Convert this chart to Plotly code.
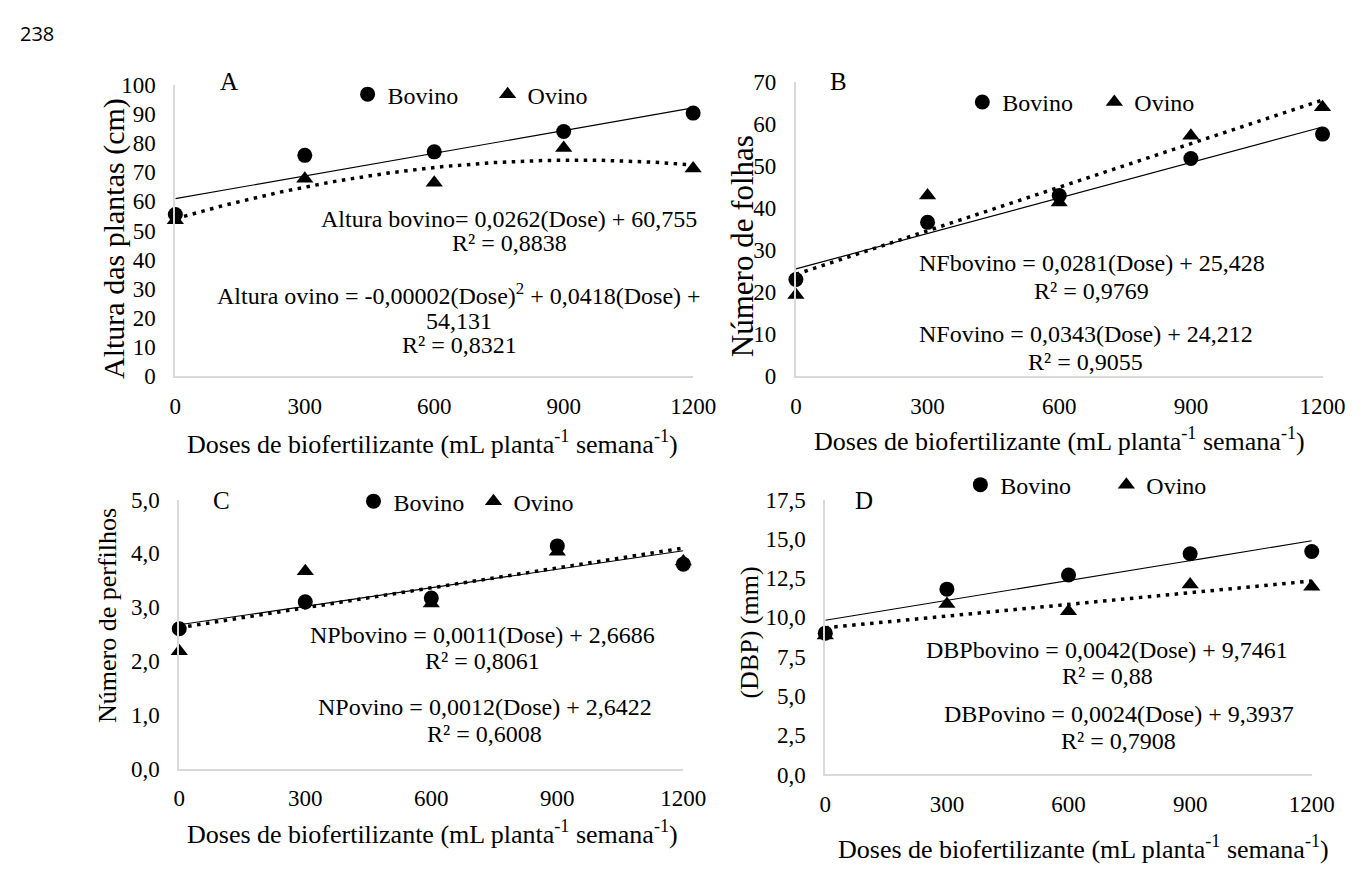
import numpy as np
import plotly.graph_objects as go

W, H = 1370, 872

doses = [0, 300, 600, 900, 1200]
x_ticks = [0, 300, 600, 900, 1200]

# Panel A - Altura das plantas (cm)
A_bovino = [55.5, 75.8, 77.0, 84.0, 90.3]
A_ovino = [53.5, 67.8, 66.4, 78.3, 71.3]
# Panel B - Número de folhas
B_bovino = [23.0, 36.6, 43.0, 51.8, 57.6]
B_ovino = [19.3, 43.0, 41.3, 57.2, 64.0]
# Panel C - Número de perfilhos
C_bovino = [2.6, 3.1, 3.17, 4.14, 3.8]
C_ovino = [2.18, 3.67, 3.07, 4.03, 3.85]
# Panel D - (DBP) (mm)
D_bovino = [9.0, 11.8, 12.7, 14.05, 14.2]
D_ovino = [8.85, 10.85, 10.4, 12.1, 11.95]

A_yticks = [0, 10, 20, 30, 40, 50, 60, 70, 80, 90, 100]
B_yticks = [0, 10, 20, 30, 40, 50, 60, 70]
C_yticks = [0, 1, 2, 3, 4, 5]
C_ylabels = ["0,0", "1,0", "2,0", "3,0", "4,0", "5,0"]
D_yticks = [0, 2.5, 5, 7.5, 10, 12.5, 15, 17.5]
D_ylabels = ["0,0", "2,5", "5,0", "7,5", "10,0", "12,5", "15,0", "17,5"]

eq_A = ["Altura bovino= 0,0262(Dose) + 60,755", "R² = 0,8838",
        "Altura ovino = -0,00002(Dose)<sup>2</sup> + 0,0418(Dose) +", "54,131", "R² = 0,8321"]
eq_B = ["NFbovino = 0,0281(Dose) + 25,428", "R² = 0,9769",
        "NFovino = 0,0343(Dose) + 24,212", "R² = 0,9055"]
eq_C = ["NPbovino = 0,0011(Dose) + 2,6686", "R² = 0,8061",
        "NPovino = 0,0012(Dose) + 2,6422", "R² = 0,6008"]
eq_D = ["DBPbovino = 0,0042(Dose) + 9,7461", "R² = 0,88",
        "DBPovino = 0,0024(Dose) + 9,3937", "R² = 0,7908"]

xtitle = "Doses de biofertilizante (mL planta<sup>-1</sup> semana<sup>-1</sup>)"
SERIF = "Liberation Serif, Times New Roman, serif"


def px_x(p):
    return p / W


def px_y(p):
    return 1 - p / H


# panel geometry in pixels: (left, right, top, bottom)
panels = [
    dict(key="A", box=(173, 702, 75, 375), yr=[0, 100], yt=A_yticks, yl=[str(v) for v in A_yticks],
         bov=A_bovino, ovi=A_ovino, ovi_deg=2, ytitle="Altura das plantas (cm)", ytsize=30,
         ytpos=(111, 233), xtpos=(436, 443), letter=(228, 72),
         leg=(373, 85), legw=140, eqs=eq_A,
         eqpos=[(514, 213), (514, 238), (463, 290), (463, 318), (463, 343)]),
    dict(key="B", box=(807, 1345, 72, 375), yr=[0, 70], yt=B_yticks, yl=[str(v) for v in B_yticks],
         bov=B_bovino, ovi=B_ovino, ovi_deg=1, ytitle="Número de folhas", ytsize=31,
         ytpos=(752, 241), xtpos=(1076, 440), letter=(850, 72),
         leg=(1001, 93), legw=132, eqs=eq_B,
         eqpos=[(1109, 258), (1109, 287), (1103, 332), (1103, 360)]),
    dict(key="C", box=(177, 692, 502, 779), yr=[0, 5], yt=C_yticks, yl=C_ylabels,
         bov=C_bovino, ovi=C_ovino, ovi_deg=1, ytitle="Número de perfilhos", ytsize=26,
         ytpos=(103, 621), xtpos=(436, 845), letter=(220, 503),
         leg=(379, 504), legw=120, eqs=eq_C,
         eqpos=[(487, 641), (487, 668), (489, 715), (489, 743)]),
    dict(key="D", box=(837, 1334, 502, 785), yr=[0, 17.5], yt=D_yticks, yl=D_ylabels,
         bov=D_bovino, ovi=D_ovino, ovi_deg=1, ytitle="(DBP) (mm)", ytsize=26,
         ytpos=(760, 639), xtpos=(1101, 860), letter=(877, 503),
         leg=(999, 487), legw=146, eqs=eq_D,
         eqpos=[(1125, 657), (1125, 684), (1137, 723), (1137, 751)]),
]

fig = go.Figure()
annotations = []
layout = {}
xfit = np.linspace(0, 1200, 121)

for i, p in enumerate(panels):
    n = "" if i == 0 else str(i + 1)
    xa, ya = "x" + n, "y" + n
    legname = "legend" + n
    l, r, t, b = p["box"]
    layout["xaxis" + n] = dict(
        domain=[px_x(l), px_x(r)], range=[0, 1200], anchor=ya,
        tickvals=x_ticks, ticktext=[str(v) for v in x_ticks],
        showline=True, linecolor="#d9d9d9", linewidth=2, showgrid=False, zeroline=False,
        ticks="outside", ticklen=8, tickcolor="rgba(0,0,0,0)",
        tickfont=dict(family=SERIF, size=23, color="black"), fixedrange=True)
    layout["yaxis" + n] = dict(
        domain=[px_y(b), px_y(t)], range=p["yr"], anchor=xa,
        tickvals=p["yt"], ticktext=p["yl"],
        showline=True, linecolor="#d9d9d9", linewidth=2, showgrid=False, zeroline=False,
        ticks="outside", ticklen=13, tickcolor="rgba(0,0,0,0)",
        tickfont=dict(family=SERIF, size=23, color="black"), fixedrange=True)

    # trendlines fitted from the data (Excel-style)
    cb = np.polyfit(doses, p["bov"], 1)
    co = np.polyfit(doses, p["ovi"], p["ovi_deg"])
    fig.add_trace(go.Scatter(x=xfit, y=np.polyval(cb, xfit), mode="lines", xaxis=xa, yaxis=ya,
                             line=dict(color="black", width=1.2), showlegend=False, hoverinfo="skip"))
    fig.add_trace(go.Scatter(x=xfit, y=np.polyval(co, xfit), mode="lines", xaxis=xa, yaxis=ya,
                             line=dict(color="black", width=3.5, dash="3.5px,5.5px"), showlegend=False,
                             hoverinfo="skip"))
    fig.add_trace(go.Scatter(x=doses, y=p["bov"], mode="markers", name="Bovino", xaxis=xa, yaxis=ya,
                             marker=dict(symbol="circle", size=15, color="black"),
                             cliponaxis=False, legend=legname))
    fig.add_trace(go.Scatter(x=doses, y=p["ovi"], mode="markers", name="Ovino", xaxis=xa, yaxis=ya,
                             marker=dict(symbol="triangle-up", size=15, color="black"),
                             cliponaxis=False, legend=legname))

    lx, ly = p["leg"]
    layout[legname] = dict(orientation="h", x=px_x(lx - 24), y=px_y(ly), xanchor="left",
                           yanchor="middle", entrywidth=p["legw"] - 45, entrywidthmode="pixels",
                           font=dict(family=SERIF, size=24, color="black"), bgcolor="rgba(0,0,0,0)",
                           itemclick=False, itemdoubleclick=False)

    annotations.append(dict(text=p["key"], x=px_x(p["letter"][0]), y=px_y(p["letter"][1]),
                            xref="paper", yref="paper", showarrow=False, xanchor="center", yanchor="middle",
                            font=dict(family=SERIF, size=25, color="black")))
    annotations.append(dict(text=p["ytitle"], x=px_x(p["ytpos"][0]), y=px_y(p["ytpos"][1]),
                            xref="paper", yref="paper", showarrow=False, textangle=-90,
                            xanchor="center", yanchor="middle",
                            font=dict(family=SERIF, size=p["ytsize"], color="black")))
    annotations.append(dict(text=xtitle, x=px_x(p["xtpos"][0]), y=px_y(p["xtpos"][1]),
                            xref="paper", yref="paper", showarrow=False, xanchor="center", yanchor="middle",
                            font=dict(family=SERIF, size=26, color="black")))
    for txt, (ex, ey) in zip(p["eqs"], p["eqpos"]):
        annotations.append(dict(text=txt, x=px_x(ex), y=px_y(ey), xref="paper", yref="paper",
                                showarrow=False, xanchor="center", yanchor="middle", align="center",
                                font=dict(family=SERIF, size=24, color="black")))

annotations.append(dict(text="238", x=px_x(12), y=px_y(22), xref="paper", yref="paper",
                        showarrow=False, xanchor="left", yanchor="middle",
                        font=dict(family="Open Sans, sans-serif", size=20, color="black")))

fig.update_layout(**layout)
fig.update_layout(width=W, height=H, margin=dict(l=0, r=0, t=0, b=0),
                  paper_bgcolor="white", plot_bgcolor="white",
                  annotations=annotations, showlegend=True)

fig.write_html("out.html", config={"displayModeBar": False})
